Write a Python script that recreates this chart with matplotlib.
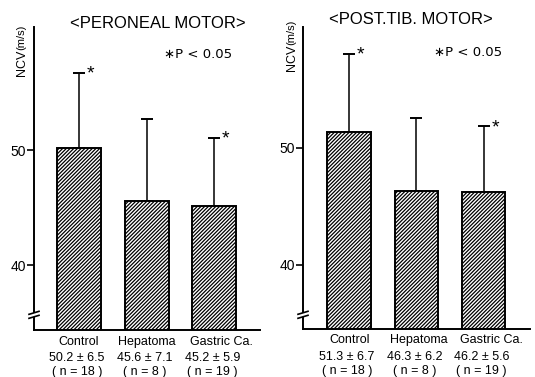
import matplotlib
matplotlib.use('Agg')
import matplotlib.pyplot as plt

categories = ['Control', 'Hepatoma', 'Gastric Ca.']
peroneal_mean = [50.2, 45.6, 45.2]
peroneal_sd = [6.5, 7.1, 5.9]
peroneal_n = [18, 8, 19]
posttib_mean = [51.3, 46.3, 46.2]
posttib_sd = [6.7, 6.2, 5.6]
posttib_n = [18, 8, 19]
significant = [True, False, True]
yticks = [40, 50]
titles = ['<PERONEAL MOTOR>', '<POST.TIB. MOTOR>']
p_note = '\u2217P < 0.05'

plt.rcParams['font.family'] = ['Liberation Sans', 'DejaVu Sans']
plt.rcParams['hatch.linewidth'] = 0.9

W, H = 535, 377
fig = plt.figure(figsize=(W / 100, H / 100), dpi=100)


def add_px_axes(l, t, r, b):
    return fig.add_axes([l / W, 1 - b / H, (r - l) / W, (b - t) / H])


panels = [
    dict(box=(34, 27, 260, 330), xlim=(-0.667, 2.674), ylim=(34.4, 60.7),
         mean=peroneal_mean, sd=peroneal_sd, n=peroneal_n, title=titles[0],
         title_xy=(158, 23), p_xy=(198, 55), ylab_x=22, ncv_bottom=76, ms_bottom=50,
         lab_dx=[0, 0, 0.11]),
    dict(box=(303, 27, 530, 329), xlim=(-0.687, 2.69), ylim=(34.5, 60.3),
         mean=posttib_mean, sd=posttib_sd, n=posttib_n, title=titles[1],
         title_xy=(411, 20), p_xy=(468, 52), ylab_x=292, ncv_bottom=71, ms_bottom=45,
         lab_dx=[0, 0.04, 0.11]),
]

for p in panels:
    ax = add_px_axes(*p['box'])
    x = list(range(len(categories)))
    ax.bar(x, p['mean'], width=0.65, bottom=0, color='white', edgecolor='black',
           linewidth=1.4, hatch='/////////', zorder=2)
    ax.errorbar(x, p['mean'], yerr=[[0] * 3, p['sd']], fmt='none', ecolor='black',
                elinewidth=1.1, capsize=4, capthick=1.4, zorder=1)
    ax.set_xlim(*p['xlim'])
    ax.set_ylim(*p['ylim'])
    for s in ['top', 'right']:
        ax.spines[s].set_visible(False)
    for s in ['left', 'bottom']:
        ax.spines[s].set_linewidth(1.4)
    ax.set_xticks([])
    ax.set_yticks(yticks)
    ax.tick_params(axis='y', direction='out', length=5, width=1.2, labelsize=10, pad=1)

    tr = ax.get_xaxis_transform()
    for i, c in enumerate(categories):
        m, sd, n = p['mean'][i], p['sd'][i], p['n'][i]
        ax.text(i + p['lab_dx'][i], -0.038, c, transform=tr, ha='center', va='center',
                fontsize=9)
        ax.text(i - 0.03, -0.093, f'{m:.1f} \u00b1 {sd:.1f}', transform=tr, ha='center',
                va='center', fontsize=9)
        ax.text(i - 0.03, -0.139, f'( n = {n} )', transform=tr, ha='center',
                va='center', fontsize=9)
        if significant[i]:
            ax.text(i + 0.17, m + sd - 0.1, '*', ha='center', va='center',
                    fontsize=14, clip_on=False)

    # axis break mark
    bx0, by0 = ax.transData.transform((p['xlim'][0], 35.5))
    inv = fig.transFigure.inverted()

    def fpt(dx, dy):
        return inv.transform((bx0 + dx, by0 + dy))
    gap = plt.Polygon([fpt(-5, -1), fpt(5, 2), fpt(5, 6), fpt(-5, 3)], closed=True,
                      facecolor='white', edgecolor='none', transform=fig.transFigure,
                      zorder=5)
    fig.add_artist(gap)
    for dy in (-1, 3):
        a, b = fpt(-5, dy), fpt(5, dy + 3)
        fig.add_artist(plt.Line2D([a[0], b[0]], [a[1], b[1]], color='black', lw=1.2,
                                  transform=fig.transFigure, zorder=6))

    fig.text(p['title_xy'][0] / W, 1 - p['title_xy'][1] / H, p['title'], ha='center',
             va='center', fontsize=12)
    fig.text(p['p_xy'][0] / W, 1 - p['p_xy'][1] / H, p_note, ha='center', va='center',
             fontsize=9.5, family=['DejaVu Sans'])
    fig.text(p['ylab_x'] / W, 1 - p['ncv_bottom'] / H, 'NCV', rotation=90, ha='center',
             va='bottom', fontsize=9)
    fig.text((p['ylab_x'] - 1) / W, 1 - p['ms_bottom'] / H, '(m/s)', rotation=90,
             ha='center', va='bottom', fontsize=8)

fig.savefig('out.png', dpi=100)
